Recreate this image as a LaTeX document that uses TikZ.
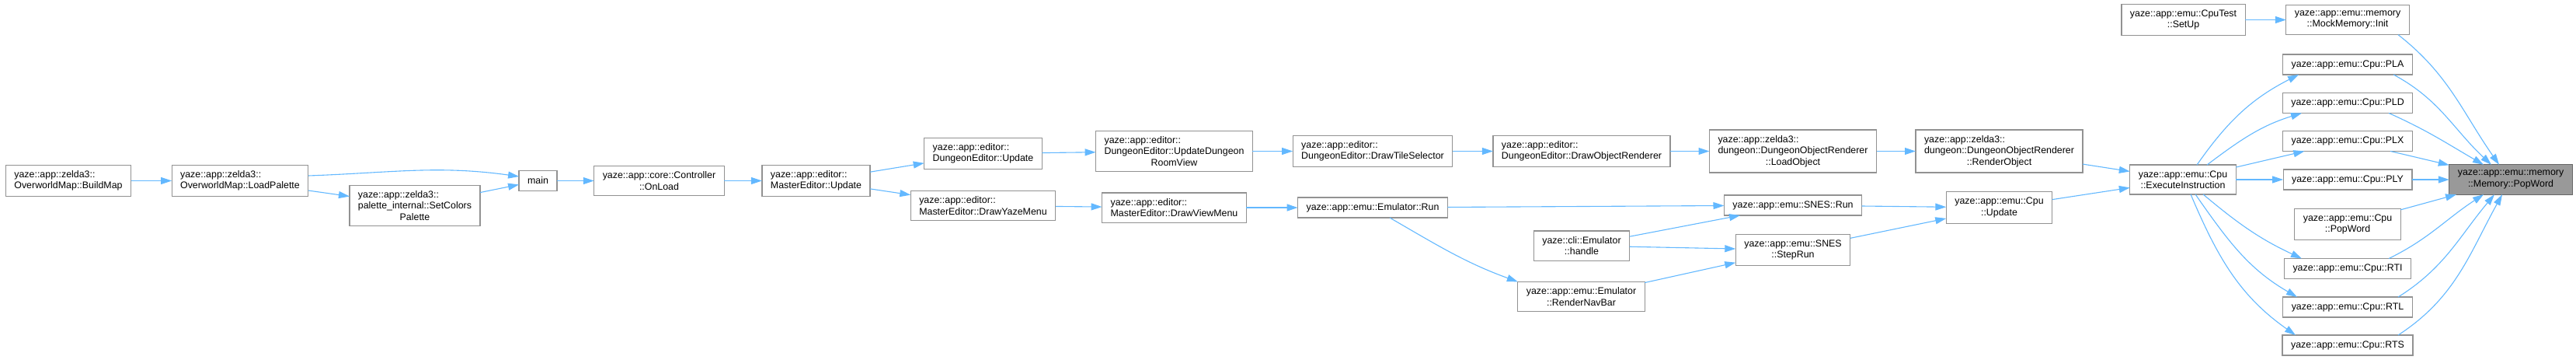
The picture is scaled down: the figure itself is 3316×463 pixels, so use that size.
\documentclass[tikz,border=0pt]{standalone}
\usepackage{fontspec}
\setmainfont{Liberation Sans}
\usetikzlibrary{positioning,arrows.meta}
\definecolor{EdgeBlue}{HTML}{63B8FF}
\definecolor{BoxGray}{HTML}{929292}
\definecolor{RootFill}{HTML}{999999}
\definecolor{RootLine}{HTML}{666666}

\begin{document}
\begin{tikzpicture}[x=1pt, y=-1pt,
FnStyle/.style={draw=BoxGray, line width=1.2pt, fill=white, minimum height=26pt,
                inner xsep=11pt, inner ysep=7.3pt, outer sep=0pt, align=center,
                font=\fontsize{12.4}{14.5}\selectfont},
LeftStyle/.style={FnStyle, align=left},
RootStyle/.style={FnStyle, fill=RootFill, draw=RootLine},
EdgeStyle/.style={draw=EdgeBlue, line width=1.1pt, -{Triangle[length=14pt,width=9pt]}},]
\useasboundingbox (0,0) rectangle (3316,463);

% callers, left to right
\node [LeftStyle] (bm) at (88,232.5) {yaze::app::zelda3::\\OverworldMap::BuildMap};
\node [LeftStyle] (lp) at (309,232.5) {yaze::app::zelda3::\\OverworldMap::LoadPalette};
\node [LeftStyle] (scp) at (534,264.5) {yaze::app::zelda3::\\palette\_internal::SetColors\\\hfil Palette};
\node [FnStyle] (mn) at (692.5,232.5) {main};
\node [FnStyle] (onl) at (848.5,232.5) {yaze::app::core::Controller\\::OnLoad};
\node [LeftStyle] (meu) at (1050.5,232.5) {yaze::app::editor::\\MasterEditor::Update};
\node [LeftStyle] (deu) at (1265.5,197.5) {yaze::app::editor::\\DungeonEditor::Update};
\node [LeftStyle] (dym) at (1265.5,264.5) {yaze::app::editor::\\MasterEditor::DrawYazeMenu};
\node [LeftStyle] (udr) at (1511.5,194.5) {yaze::app::editor::\\DungeonEditor::UpdateDungeon\\\hfil RoomView};
\node [LeftStyle] (dvm) at (1511.5,267) {yaze::app::editor::\\MasterEditor::DrawViewMenu};
\node [LeftStyle] (dts) at (1767,194.5) {yaze::app::editor::\\DungeonEditor::DrawTileSelector};
\node [LeftStyle] (dor) at (2036,194.5) {yaze::app::editor::\\DungeonEditor::DrawObjectRenderer};
\node [FnStyle] (erun) at (1767,267) {yaze::app::emu::Emulator::Run};
\node [FnStyle] (hdl) at (2036,316) {yaze::cli::Emulator\\::handle};
\node [FnStyle] (rnb) at (2035.5,381.5) {yaze::app::emu::Emulator\\::RenderNavBar};
\node [LeftStyle] (lob) at (2308,194.5) {yaze::app::zelda3::\\dungeon::DungeonObjectRenderer\\\hfil::LoadObject};
\node [FnStyle] (srun) at (2308,264) {yaze::app::emu::SNES::Run};
\node [FnStyle] (srs) at (2308,321.5) {yaze::app::emu::SNES\\::StepRun};
\node [LeftStyle] (rob) at (2573.5,194.5) {yaze::app::zelda3::\\dungeon::DungeonObjectRenderer\\\hfil::RenderObject};
\node [FnStyle] (cup) at (2573.5,267) {yaze::app::emu::Cpu\\::Update};
\node [FnStyle] (exi) at (2810,231) {yaze::app::emu::Cpu\\::ExecuteInstruction};
\node [FnStyle] (stu) at (2810.5,25.5) {yaze::app::emu::CpuTest\\::SetUp};

% direct callers
\node [FnStyle] (mmi) at (3022,25.5) {yaze::app::emu::memory\\::MockMemory::Init};
\node [FnStyle] (pla) at (3022,83) {yaze::app::emu::Cpu::PLA};
\node [FnStyle] (pld) at (3022,132.5) {yaze::app::emu::Cpu::PLD};
\node [FnStyle] (plx) at (3022,181.5) {yaze::app::emu::Cpu::PLX};
\node [FnStyle] (ply) at (3022,231) {yaze::app::emu::Cpu::PLY};
\node [FnStyle] (cpw) at (3022,288.5) {yaze::app::emu::Cpu\\::PopWord};
\node [FnStyle] (rti) at (3022,345.5) {yaze::app::emu::Cpu::RTI};
\node [FnStyle] (rtl) at (3022,395) {yaze::app::emu::Cpu::RTL};
\node [FnStyle] (rts) at (3022,444) {yaze::app::emu::Cpu::RTS};

\node [RootStyle] (mpw) at (3232,231) {yaze::app::emu::memory\\::Memory::PopWord};

% edges
\draw [EdgeStyle] (bm) -- (lp);
\draw [EdgeStyle] ([yshift=6.5pt]lp.east) to[out=2,in=172] ([yshift=5.5pt]mn.west);
\draw [EdgeStyle] (lp) -- (scp);
\draw [EdgeStyle] (scp) -- (mn);
\draw [EdgeStyle] (mn) -- (onl);
\draw [EdgeStyle] (onl) -- (meu);
\draw [EdgeStyle] (meu) -- (deu);
\draw [EdgeStyle] (meu) -- (dym);
\draw [EdgeStyle] (deu) -- (udr);
\draw [EdgeStyle] (udr) -- (dts);
\draw [EdgeStyle] (dts) -- (dor);
\draw [EdgeStyle] (dor) -- (lob);
\draw [EdgeStyle] (lob) -- (rob);
\draw [EdgeStyle] (rob) -- (exi);
\draw [EdgeStyle] (dym) -- (dvm);
\draw [EdgeStyle] (dvm) -- (erun);
\draw [EdgeStyle] (erun) -- (srun);
\draw [EdgeStyle] ([xshift=22pt]erun.south) to[out=-30,in=160] (rnb.north west);
\draw [EdgeStyle] (hdl) -- (srun);
\draw [EdgeStyle] (hdl) -- (srs);
\draw [EdgeStyle] (rnb) -- (srs);
\draw [EdgeStyle] (srun) -- (cup);
\draw [EdgeStyle] (srs) -- (cup);
\draw [EdgeStyle] (cup) -- (exi);
\draw [EdgeStyle] (stu) -- (mmi);

\draw [EdgeStyle] ([xshift=18pt]exi.north) to[out=55,in=-153] ([xshift=-63pt]pla.south);
\draw [EdgeStyle] ([xshift=31pt]exi.north) to[out=37,in=-163] ([xshift=-59pt]pld.south);
\draw [EdgeStyle] (exi) -- (plx);
\draw [EdgeStyle] (exi) -- (ply);
\draw [EdgeStyle] ([xshift=26pt]exi.south) to[out=-40,in=155] ([xshift=-59pt]rti.north);
\draw [EdgeStyle] ([xshift=16pt]exi.south) to[out=-55,in=150] ([xshift=-65pt]rtl.north);
\draw [EdgeStyle] ([xshift=10pt]exi.south) to[out=-67,in=145] ([xshift=-67pt]rts.north);

\draw [EdgeStyle] ([xshift=65pt]mmi.south) to[out=-38,in=125] ([xshift=-15pt]mpw.north);
\draw [EdgeStyle] ([xshift=59pt]pla.south) to[out=-28,in=137] ([xshift=-25pt]mpw.north);
\draw [EdgeStyle] ([xshift=53pt]pld.south) to[out=-24,in=150] ([xshift=-35pt]mpw.north);
\draw [EdgeStyle] (plx) -- (mpw);
\draw [EdgeStyle] (ply) -- (mpw);
\draw [EdgeStyle] (cpw) -- (mpw);
\draw [EdgeStyle] ([xshift=53pt]rti.north) to[out=26,in=-147] ([xshift=-35pt]mpw.south);
\draw [EdgeStyle] ([xshift=65pt]rtl.north) to[out=32,in=-130] ([xshift=-21pt]mpw.south);
\draw [EdgeStyle] ([xshift=65pt]rts.north) to[out=33,in=-119] ([xshift=-11pt]mpw.south);
\end{tikzpicture}
\end{document}
